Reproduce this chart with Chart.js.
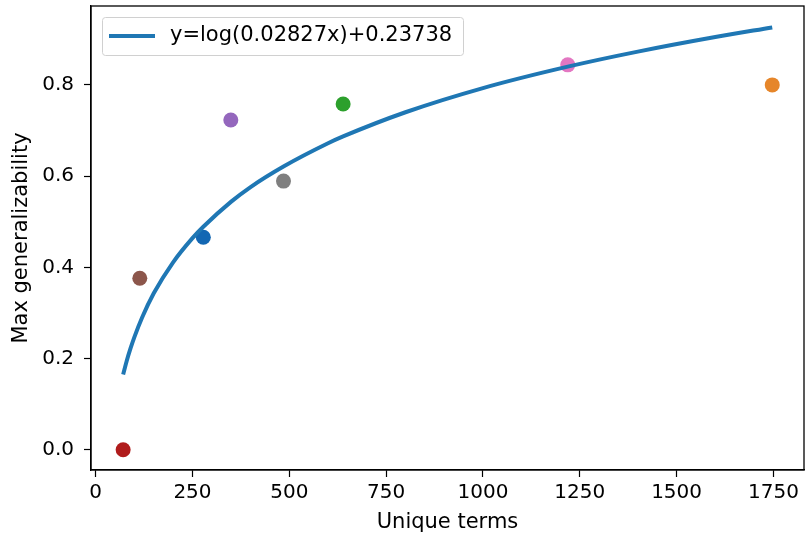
<!DOCTYPE html>
<html>
<head>
<meta charset="utf-8">
<script src="https://cdn.jsdelivr.net/npm/chart.js@4/dist/chart.umd.min.js"></script>
<style>
  html, body { margin: 0; padding: 0; background: #fff; }
  #wrap { width: 805px; height: 540px; }
</style>
</head>
<body>
<div id="wrap"><canvas id="c"></canvas></div>
<script>
// measured points (unique terms vs max generalizability)
const termCounts = [71, 114, 278, 349, 485, 639, 1219, 1747];
const maxGen = [0.0, 0.376, 0.466, 0.723, 0.589, 0.758, 0.844, 0.80];
const pointColors = ['#b01c1c', '#8c564b', '#1367b3', '#9467bd', '#7f7f7f', '#2ca02c', '#e377c2', '#e6862a'];

// fitted curve
const fitX = [71, 80, 90, 100, 120, 150, 200, 250, 278, 350, 400, 485, 600, 639, 800, 1000, 1219, 1400, 1600, 1747];
const fitY = [0.165, 0.194, 0.222, 0.247, 0.290, 0.343, 0.411, 0.464, 0.489, 0.544, 0.576, 0.621, 0.672, 0.687, 0.740, 0.793, 0.840, 0.873, 0.905, 0.926];
const fitLabel = 'y=log(0.02827x)+0.23738';

const xTicks = [0, 250, 500, 750, 1000, 1250, 1500, 1750];
const yTicks = [0.0, 0.2, 0.4, 0.6, 0.8];

const FONT = 'DejaVu Sans';

// frame on all four sides + legend box inside plot
const framePlugin = {
  id: 'frame',
  afterDraw(chart) {
    const {ctx, chartArea: a} = chart;
    ctx.save();
    ctx.strokeStyle = '#000';
    ctx.lineWidth = 1.3;
    ctx.strokeRect(a.left, a.top, a.right - a.left, a.bottom - a.top);

    // legend
    const bx = 102, by = 17, bw = 361, bh = 38;
    ctx.fillStyle = 'rgba(255,255,255,0.8)';
    ctx.strokeStyle = '#d0d0d0';
    ctx.lineWidth = 1;
    ctx.beginPath();
    ctx.roundRect(bx + 0.5, by + 0.5, bw, bh, 3);
    ctx.fill();
    ctx.stroke();
    ctx.strokeStyle = '#1f77b4';
    ctx.lineWidth = 4;
    ctx.beginPath();
    ctx.moveTo(109, 36);
    ctx.lineTo(155, 36);
    ctx.stroke();
    ctx.fillStyle = '#000';
    ctx.font = '21px "' + FONT + '"';
    ctx.textBaseline = 'middle';
    ctx.fillText(fitLabel, 170, 36);
    ctx.restore();
  }
};

new Chart(document.getElementById('c'), {
  type: 'scatter',
  data: {
    datasets: [
      {
        type: 'line',
        label: fitLabel,
        data: fitX.map((x, i) => ({x: x, y: fitY[i]})),
        borderColor: '#1f77b4',
        borderWidth: 4,
        pointRadius: 0,
        fill: false,
        cubicInterpolationMode: 'monotone',
        order: 0
      },
      {
        label: 'points',
        data: termCounts.map((x, i) => ({x: x, y: maxGen[i]})),
        pointBackgroundColor: pointColors,
        pointBorderWidth: 0,
        pointRadius: 7.5,
        order: 1
      }
    ]
  },
  options: {
    responsive: true,
    maintainAspectRatio: false,
    animation: false,
    events: [],
    layout: { autoPadding: false, padding: { top: 6, right: 1, left: 0, bottom: 0 } },
    plugins: { legend: { display: false }, tooltip: { enabled: false } },
    scales: {
      x: {
        type: 'linear',
        min: -12,
        max: 1829,
        afterBuildTicks: s => { s.ticks = xTicks.map(v => ({value: v})); },
        afterFit: s => { s.height = 70; s.paddingLeft = 0; s.paddingRight = 0; },
        grid: { drawOnChartArea: false, color: '#000', tickLength: 7, tickWidth: 1.2 },
        border: { color: '#000', width: 1.3 },
        ticks: { color: '#000', font: { family: FONT, size: 20 }, padding: 4, maxRotation: 0, callback: v => String(v) },
        title: { display: true, text: 'Unique terms', color: '#000', font: { family: FONT, size: 21 }, padding: { top: 0, bottom: 5 } }
      },
      y: {
        min: -0.0445,
        max: 0.973,
        afterBuildTicks: s => { s.ticks = yTicks.map(v => ({value: v})); },
        afterFit: s => { s.width = 91; s.paddingTop = 0; s.paddingBottom = 0; },
        grid: { drawOnChartArea: false, color: '#000', tickLength: 7, tickWidth: 1.2 },
        border: { color: '#000', width: 1.3 },
        ticks: { color: '#000', font: { family: FONT, size: 20 }, padding: 10, callback: v => v.toFixed(1) },
        title: { display: true, text: 'Max generalizability', color: '#000', font: { family: FONT, size: 21 }, padding: { top: 9, bottom: 0 } }
      }
    }
  },
  plugins: [framePlugin]
});
</script>
</body>
</html>
